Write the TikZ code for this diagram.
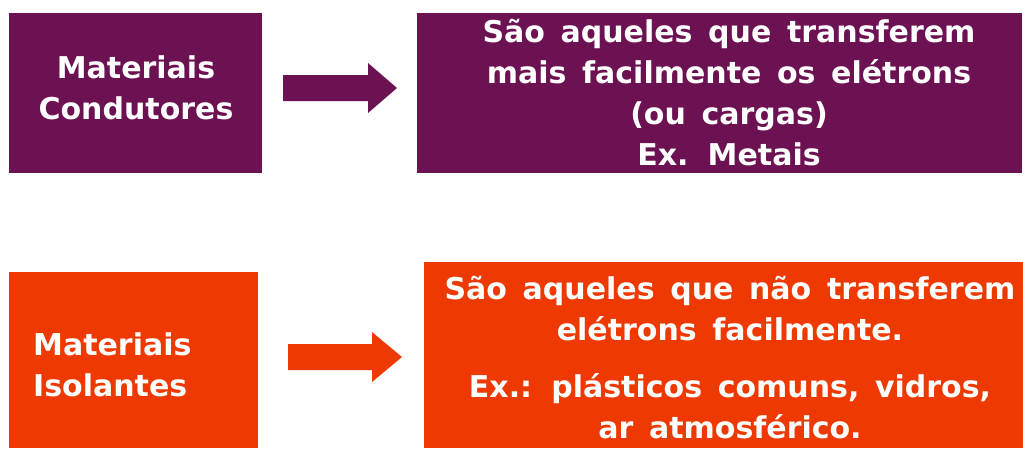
\documentclass[tikz,border=0pt]{standalone}
\usepackage{fontspec}
\newfontfamily\boxfont{DejaVu Sans Bold}[WordSpace=1.5]
\definecolor{condcolor}{RGB}{108,18,82}
\definecolor{isolcolor}{RGB}{238,58,2}
\tikzset{
  condbox/.style={rectangle, fill=condcolor, inner sep=0pt, anchor=north west},
  isolbox/.style={rectangle, fill=isolcolor, inner sep=0pt, anchor=north west},
  boxtext/.style={text=white, inner sep=0pt, align=center,
    font=\boxfont\fontsize{30}{41}\selectfont},
}
\begin{document}
\begin{tikzpicture}[x=1pt,y=-1pt]
  \useasboundingbox (0,0) rectangle (1023,448);

  % condutores
  \node[condbox, minimum width=253pt, minimum height=160pt] (condL) at (9,13) {};
  \node[condbox, minimum width=605pt, minimum height=160pt] (condR) at (417,13) {};
  \node[boxtext] (condLtxt) at (136,88) {Materiais\\Condutores};
  \node[boxtext] (condRtxt) at (729,93) {São aqueles que transferem\\mais facilmente os elétrons\\(ou cargas)\\Ex. Metais};

  \coordinate (condA) at (283,88);
  \fill[condcolor] (condA) ++(0,-13) -- ++(85,0) -- ++(0,-12) -- ++(29,25)
    -- ++(-29,25) -- ++(0,-12) -- ++(-85,0) -- cycle;

  % isolantes
  \node[isolbox, minimum width=249pt, minimum height=176pt] (isolL) at (9,272) {};
  \node[isolbox, minimum width=599pt, minimum height=186pt] (isolR) at (424,262) {};
  \node[boxtext, align=left, anchor=west] (isolLtxt) at (33,365) {Materiais\\Isolantes};
  \node[boxtext] (isolRtxt) at (730,358) {São aqueles que não transferem\\elétrons facilmente.\\[16pt]Ex.: plásticos comuns, vidros,\\ar atmosférico.};

  \coordinate (isolA) at (288,357);
  \fill[isolcolor] (isolA) ++(0,-13) -- ++(84,0) -- ++(0,-12) -- ++(30,25)
    -- ++(-30,25) -- ++(0,-12) -- ++(-84,0) -- cycle;
\end{tikzpicture}
\end{document}
